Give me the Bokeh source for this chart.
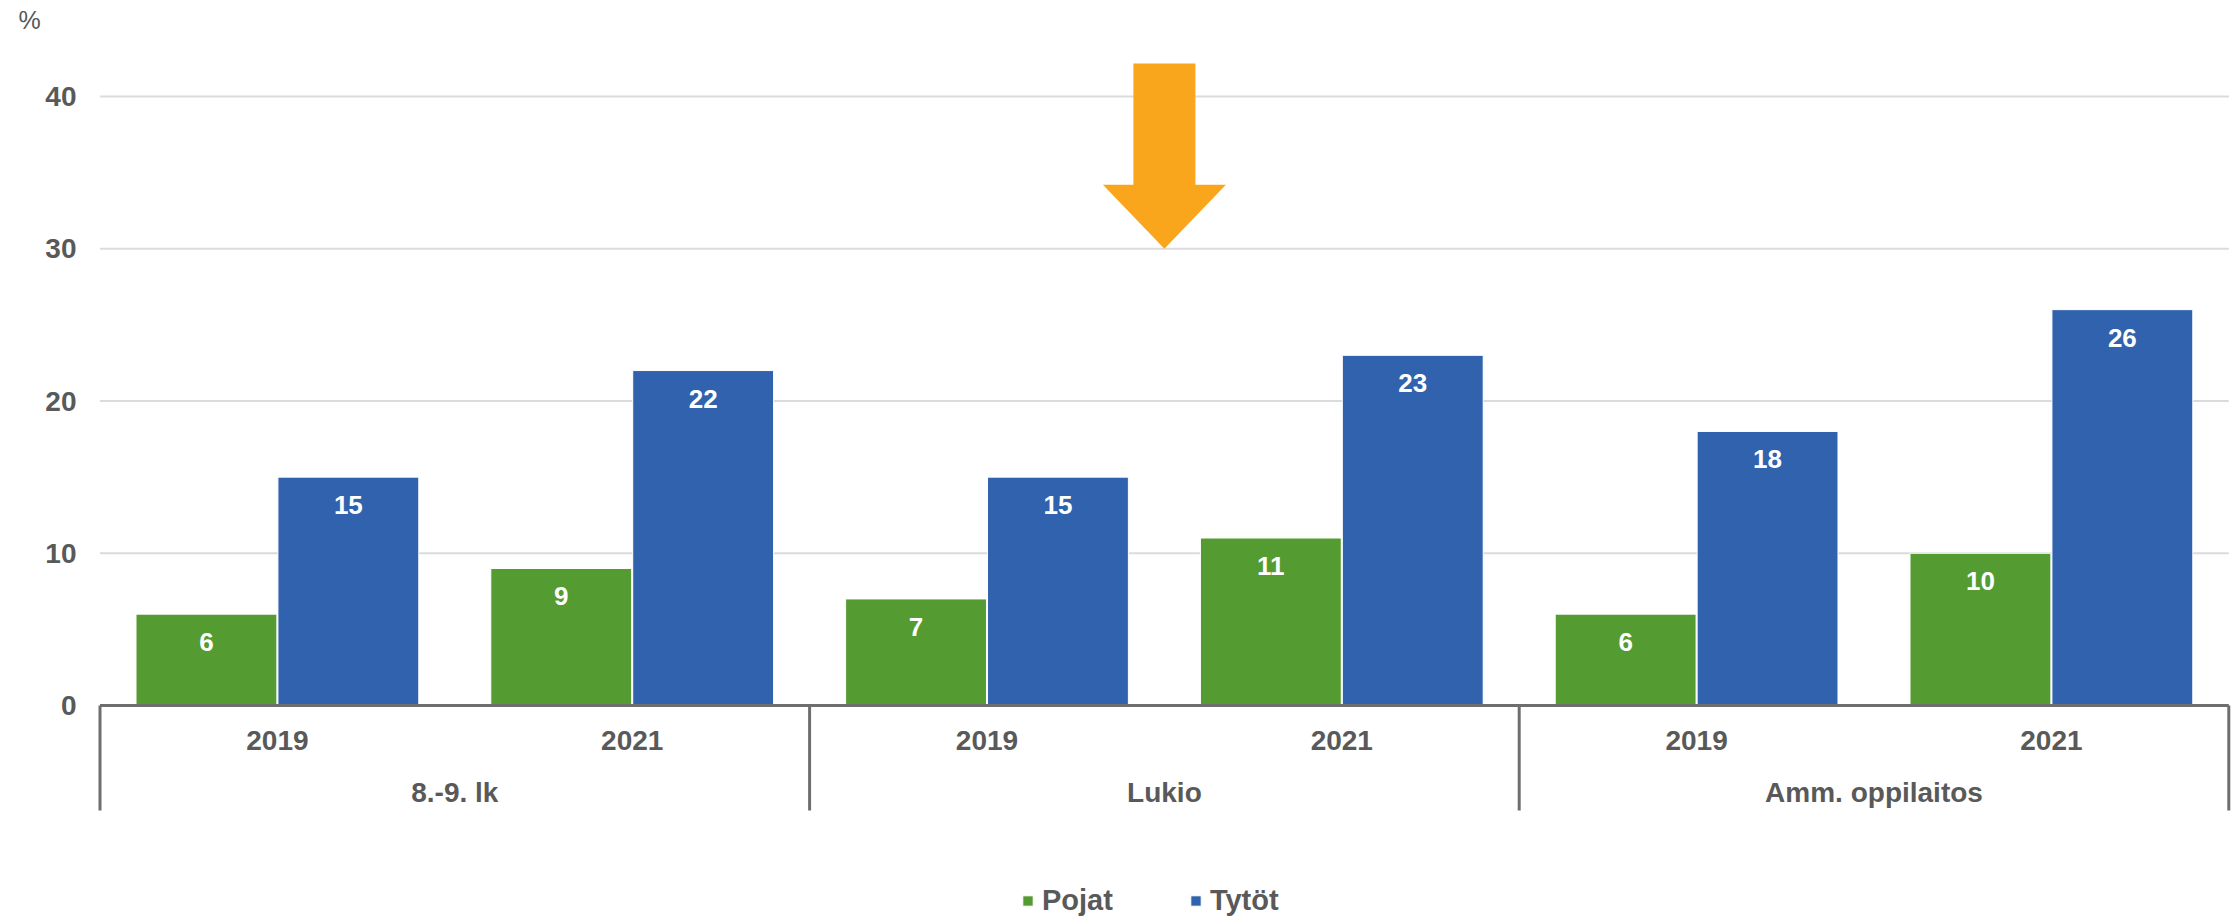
from bokeh.plotting import figure
from bokeh.models import Range1d, ColumnDataSource, Legend
from bokeh.core.properties import value
from bokeh.embed import file_html
from bokeh.resources import INLINE

# ---------------- data ----------------
groups = ["8.-9. lk", "Lukio", "Amm. oppilaitos"]
years = ["2019", "2021"]
pojat = [6, 9, 7, 11, 6, 10]
tytot = [15, 22, 15, 23, 18, 26]
series_names = ["Pojat", "Tytöt"]
y_ticks = [0, 10, 20, 30, 40]
unit_label = "%"

# ---------------- style ----------------
GREEN = "#549B31"
BLUE = "#3062AD"
ORANGE = "#F9A61C"
TEXT = "#595959"
AXIS = "#6E6E6E"
GRID = "#D9DBDE"
FONT = "Liberation Sans"

W, H = 2232, 917
PX_PER_X = 354.8
PX_PER_Y = 15.225
X0_CANVAS = 99.5
Y0_CANVAS = 705

n_years = len(years)
n_cats = len(groups) * n_years
x_start = -X0_CANVAS / PX_PER_X
x_end = x_start + W / PX_PER_X
y_end = Y0_CANVAS / PX_PER_Y
y_start = -(H - Y0_CANVAS) / PX_PER_Y

p = figure(width=W, height=H, output_backend="svg", toolbar_location=None,
           x_range=Range1d(x_start, x_end), y_range=Range1d(y_start, y_end),
           x_axis_location=None, y_axis_location=None,
           min_border_left=0, min_border_right=0,
           min_border_top=0, min_border_bottom=0)
p.outline_line_color = None
p.background_fill_color = "white"
p.border_fill_color = "white"
p.grid.visible = False

# value axis: grid lines + tick labels
grid_ticks = y_ticks[1:]
p.segment(x0=[0] * len(grid_ticks), y0=grid_ticks, x1=[n_cats] * len(grid_ticks),
          y1=grid_ticks, line_color=GRID, line_width=2)
p.text(x=[0] * len(y_ticks), y=y_ticks, text=[str(t) for t in y_ticks],
       x_offset=-23.5, text_align="right", text_baseline="middle",
       text_color=TEXT, text_font=value(FONT), text_font_style="bold",
       text_font_size="28px")
p.text(x=[0], y=[y_end], text=[unit_label], x_offset=-81.5, y_offset=19,
       text_align="left", text_baseline="middle", text_color=TEXT,
       text_font=value(FONT), text_font_size="25px")

# bars
centers = [i + 0.5 for i in range(n_cats)]
dodge = 0.2
bw = 0.397
src = ColumnDataSource(dict(
    xp=[c - dodge for c in centers], xt=[c + dodge for c in centers],
    pojat=pojat, tytot=tytot,
    lp=[str(v) for v in pojat], lt=[str(v) for v in tytot]))
rp = p.vbar(x="xp", top="pojat", bottom=0, width=bw, source=src,
            fill_color=GREEN, line_color="white", line_width=1)
rt = p.vbar(x="xt", top="tytot", bottom=0, width=bw, source=src,
            fill_color=BLUE, line_color="white", line_width=1)

for xcol, ycol, tcol in (("xp", "pojat", "lp"), ("xt", "tytot", "lt")):
    p.text(x=xcol, y=ycol, text=tcol, source=src, text_align="center",
           text_baseline="middle", y_offset=28, text_color="white",
           text_font=value(FONT), text_font_style="bold", text_font_size="26px")

# category axis line + group separators
p.segment(x0=[0], y0=[0], x1=[n_cats], y1=[0], line_color=AXIS, line_width=3)
sep_bottom = -105 / PX_PER_Y
sep_x = [i * n_years for i in range(len(groups) + 1)]
p.segment(x0=sep_x, y0=[0] * len(sep_x), x1=sep_x, y1=[sep_bottom] * len(sep_x),
          line_color=AXIS, line_width=3)

# category labels
year_labels = [years[i % n_years] for i in range(n_cats)]
p.text(x=centers, y=[0] * n_cats, y_offset=35, text=year_labels, text_align="center",
       text_baseline="middle", text_color=TEXT, text_font=value(FONT),
       text_font_style="bold", text_font_size="28px")
group_centers = [i * n_years + n_years / 2 for i in range(len(groups))]
p.text(x=group_centers, y=[0] * len(groups), y_offset=87, text=groups,
       text_align="center", text_baseline="middle", text_color=TEXT,
       text_font=value(FONT), text_font_style="bold", text_font_size="28px")

# arrow annotation (centre of middle group)
ax = group_centers[1]
sw = 31 / PX_PER_X
hw = 61.5 / PX_PER_X
a_top, a_head, a_tip = 42.17, 34.2, 30.0
p.patch(x=[ax - sw, ax + sw, ax + sw, ax + hw, ax, ax - hw, ax - sw],
        y=[a_top, a_top, a_head, a_head, a_tip, a_head, a_head],
        fill_color=ORANGE, line_color=None)

# legend
legend = Legend(items=[(series_names[0], [rp]), (series_names[1], [rt])],
                orientation="horizontal", location=(1021, 0))
legend.border_line_color = None
legend.background_fill_alpha = 0
legend.padding = 0
legend.margin = 0
legend.spacing = 76
legend.glyph_width = 13
legend.glyph_height = 13
legend.label_standoff = 8
legend.label_text_font = FONT
legend.label_text_font_style = "bold"
legend.label_text_font_size = "29px"
legend.label_text_color = TEXT
p.add_layout(legend, "center")

open("out.html", "w").write(file_html(p, INLINE))
